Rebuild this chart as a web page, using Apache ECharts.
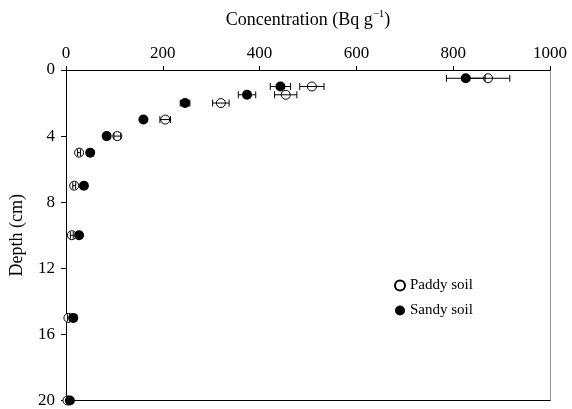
<!DOCTYPE html>
<html><head><meta charset="utf-8">
<script src="https://cdn.jsdelivr.net/npm/echarts@6/dist/echarts.min.js"></script>
<style>html,body{margin:0;padding:0;background:#fff}#c{width:572px;height:409px}</style>
</head><body><div id="c"></div>
<script>
const depths = [0.5, 1, 1.5, 2, 3, 4, 5, 7, 10, 15, 20];
const paddy = [872, 508, 454, 320, 205, 106, 27, 17, 12, 5, 3];
const paddyErr = [45, 25, 23, 17, 11, 7, 3, 3, 3, 2, 1];
const sandy = [826, 443, 374, 246, 160, 84, 50, 37, 27, 15, 8];
const sandyErr = [40, 21, 18, 10, 4, 3, 2, 2, 2, 2, 1];
const xTicks = [0, 200, 400, 600, 800, 1000];
const yTicks = [0, 4, 8, 12, 16, 20];

const font = '"Liberation Serif", "Times New Roman", serif';
function errData(vals, errs) {
  return vals.map((v, i) => [v, depths[i], v - errs[i], v + errs[i]]);
}
function errRender(params, api) {
  const y = api.value(1);
  const p1 = api.coord([api.value(2), y]);
  const p2 = api.coord([api.value(3), y]);
  const h = 3.5;
  const st = { stroke: '#000', lineWidth: 1 };
  return {
    type: 'group',
    children: [
      { type: 'line', shape: { x1: p1[0], y1: p1[1], x2: p2[0], y2: p2[1] }, style: st },
      { type: 'line', shape: { x1: p1[0], y1: p1[1] - h, x2: p1[0], y2: p1[1] + h }, style: st },
      { type: 'line', shape: { x1: p2[0], y1: p2[1] - h, x2: p2[0], y2: p2[1] + h }, style: st }
    ]
  };
}
const chart = echarts.init(document.getElementById('c'));
chart.setOption({
  animation: false,
  backgroundColor: '#fff',
  grid: { left: 66, right: 22, top: 70, bottom: 7 },
  legend: {
    orient: 'vertical', left: 389, top: 273, itemGap: 10, itemTextGap: 3,
    itemWidth: 10, itemHeight: 10,
    textStyle: { fontFamily: font, fontSize: 15, color: '#000' },
    data: ['Paddy soil', 'Sandy soil']
  },
  graphic: [
    { type: 'text', x: 308, y: 20, silent: true,
      style: {
        text: '{a|Concentration (Bq g}{s|−1}{a|)}',
        align: 'center', verticalAlign: 'middle',
        rich: {
          a: { fontFamily: font, fontSize: 18, fill: '#000', lineHeight: 22 },
          s: { fontFamily: font, fontSize: 11, fill: '#000', verticalAlign: 'top', lineHeight: 22, padding: [0, 0, 8, 0] }
        }
      } }
  ],
  xAxis: [{
    type: 'value', position: 'top', min: 0, max: 1000, interval: 200,
    axisLine: { show: true, lineStyle: { color: '#000', width: 1 } },
    axisTick: { show: true, inside: false, length: 4, lineStyle: { color: '#000' } },
    axisLabel: { margin: 8, fontFamily: font, fontSize: 17, color: '#000', formatter: v => String(v) },
    splitLine: { show: false }
  }, {
    type: 'value', position: 'bottom', min: 0, max: 1000,
    axisLine: { show: true, onZero: false, lineStyle: { color: '#000' } },
    axisTick: { show: false }, axisLabel: { show: false }, splitLine: { show: false }
  }],
  yAxis: [{
    type: 'value', inverse: true, min: 0, max: 20, interval: 4,
    name: 'Depth (cm)', nameLocation: 'middle', nameGap: 40, nameRotate: 90,
    nameTextStyle: { fontFamily: font, fontSize: 18, color: '#000' },
    axisLine: { show: true, onZero: false, lineStyle: { color: '#000' } },
    axisTick: { show: true, length: 5, lineStyle: { color: '#000' } },
    axisLabel: { margin: 11, fontFamily: font, fontSize: 17, color: '#000' },
    splitLine: { show: false }
  }, {
    type: 'value', inverse: true, min: 0, max: 20, position: 'right',
    axisLine: { show: true, onZero: false, lineStyle: { color: '#999' } },
    axisTick: { show: false }, axisLabel: { show: false }, splitLine: { show: false }
  }],
  series: [
    { name: 'Paddy soil', type: 'scatter', symbol: 'circle', symbolSize: 9,
      itemStyle: { color: '#fff', borderColor: '#000', borderWidth: 1, opacity: 1 },
      data: paddy.map((v, i) => [v, depths[i]]), z: 3 },
    { name: 'Sandy soil', type: 'scatter', symbol: 'circle', symbolSize: 10,
      itemStyle: { color: '#000', opacity: 1 },
      data: sandy.map((v, i) => [v, depths[i]]), z: 3 },
    { type: 'custom', renderItem: errRender, data: errData(paddy, paddyErr), z: 4, encode: { x: [0, 2, 3], y: 1 } },
    { type: 'custom', renderItem: errRender, data: errData(sandy, sandyErr), z: 4, encode: { x: [0, 2, 3], y: 1 } }
  ]
});
</script></body></html>
